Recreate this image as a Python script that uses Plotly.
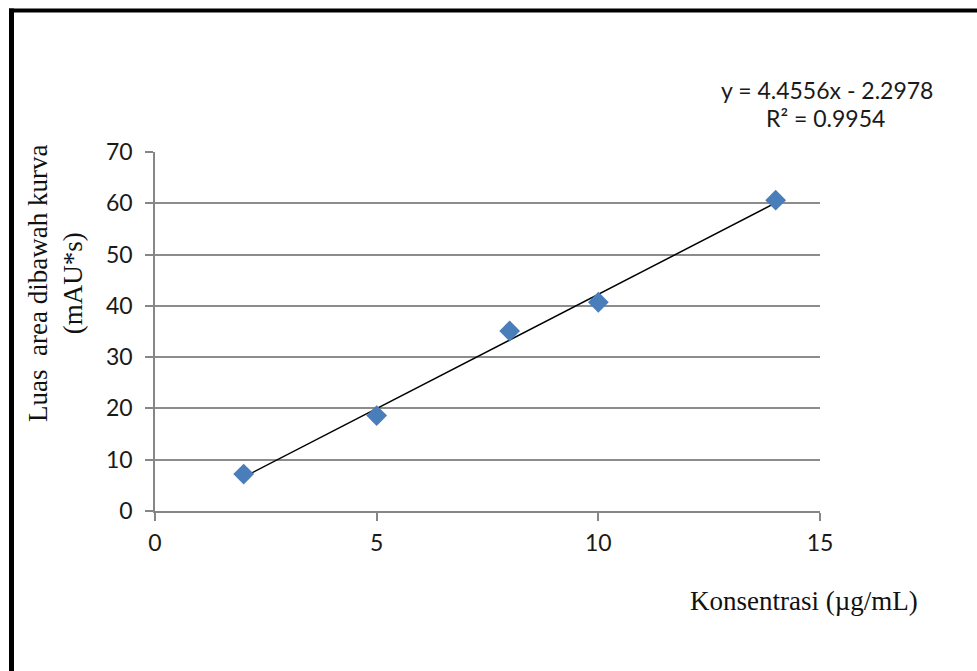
import numpy as np
import plotly.graph_objects as go

konsentrasi = [2, 5, 8, 10, 14]
luas_area = [7.2, 18.6, 35.1, 40.7, 60.6]
slope = 4.4556
intercept = -2.2978
r_squared = 0.9954
y_ticks = [0, 10, 20, 30, 40, 50, 60, 70]
x_ticks = [0, 5, 10, 15]

W, H = 977, 671
L, R, T, B = 155, 157, 152, 160
pw, ph = W - L - R, H - T - B

def px(xp):
    return (xp - L) / pw

def py(yp):
    return (H - B - yp) / ph

trend_x = np.array([min(konsentrasi), max(konsentrasi)], dtype=float)
trend_y = slope * trend_x + intercept

fig = go.Figure()
fig.add_trace(go.Scatter(
    x=trend_x, y=trend_y, mode="lines",
    line=dict(color="black", width=1.5), hoverinfo="skip", showlegend=False))
fig.add_trace(go.Scatter(
    x=konsentrasi, y=luas_area, mode="markers",
    marker=dict(symbol="diamond", size=16, color="#4a7ebb"),
    showlegend=False))

tick_font = dict(family="Lato, 'Open Sans', sans-serif", size=23, color="#1a1a1a")
eq_font = dict(family="Lato, 'Open Sans', sans-serif", size=23, color="#1a1a1a")
fig.update_xaxes(
    range=[0, 15], tickvals=x_ticks, ticktext=[str(v) for v in x_ticks],
    showgrid=False, zeroline=False, showline=True, linecolor="#868686", linewidth=1.5,
    ticks="outside", ticklen=8, tickcolor="#868686", tickwidth=1.5,
    ticklabelstandoff=3,
    tickfont=tick_font, fixedrange=True)
fig.update_yaxes(
    range=[0, 70], tickvals=y_ticks, ticktext=[str(v) for v in y_ticks],
    showgrid=True, gridcolor="#8c8c8c", gridwidth=1.5, zeroline=False,
    showline=True, linecolor="#868686", linewidth=1.5,
    ticks="outside", ticklen=8, tickcolor="#868686", tickwidth=1.5,
    ticklabelstandoff=8,
    tickfont=tick_font, fixedrange=True)

serif = "'Liberation Serif', 'Times New Roman', serif"
annotations = [
    dict(x=px(55), y=py(284), xref="paper", yref="paper", showarrow=False,
         xanchor="center", yanchor="middle",
         text="Luas  area dibawah kurva<br>(mAU*s)", textangle=-90,
         font=dict(family=serif, size=27, color="#111"), align="center"),
    dict(x=px(804), y=py(601), xref="paper", yref="paper", showarrow=False,
         xanchor="center", yanchor="middle",
         text="Konsentrasi (µg/mL)", font=dict(family=serif, size=27, color="#111")),
    dict(x=px(827), y=py(90), xref="paper", yref="paper", showarrow=False,
         xanchor="center", yanchor="middle",
         text="y = 4.4556x - 2.2978", font=eq_font),
    dict(x=px(825), y=py(118), xref="paper", yref="paper", showarrow=False,
         xanchor="center", yanchor="middle",
         text="R² = 0.9954", font=eq_font),
]

shapes = [
    dict(type="line", xref="paper", yref="paper", x0=px(9), x1=px(990), y0=py(10.5), y1=py(10.5),
         line=dict(color="black", width=4)),
    dict(type="line", xref="paper", yref="paper", x0=px(11.5), x1=px(11.5), y0=py(8.5), y1=py(690),
         line=dict(color="black", width=5)),
]

fig.update_layout(
    width=W, height=H, autosize=False,
    margin=dict(l=L, r=R, t=T, b=B),
    paper_bgcolor="white", plot_bgcolor="white",
    annotations=annotations, shapes=shapes,
    showlegend=False,
)

fig.write_html("out.html", config={"displayModeBar": False},
               post_script="document.body.style.margin='0';document.body.style.overflow='hidden';")
